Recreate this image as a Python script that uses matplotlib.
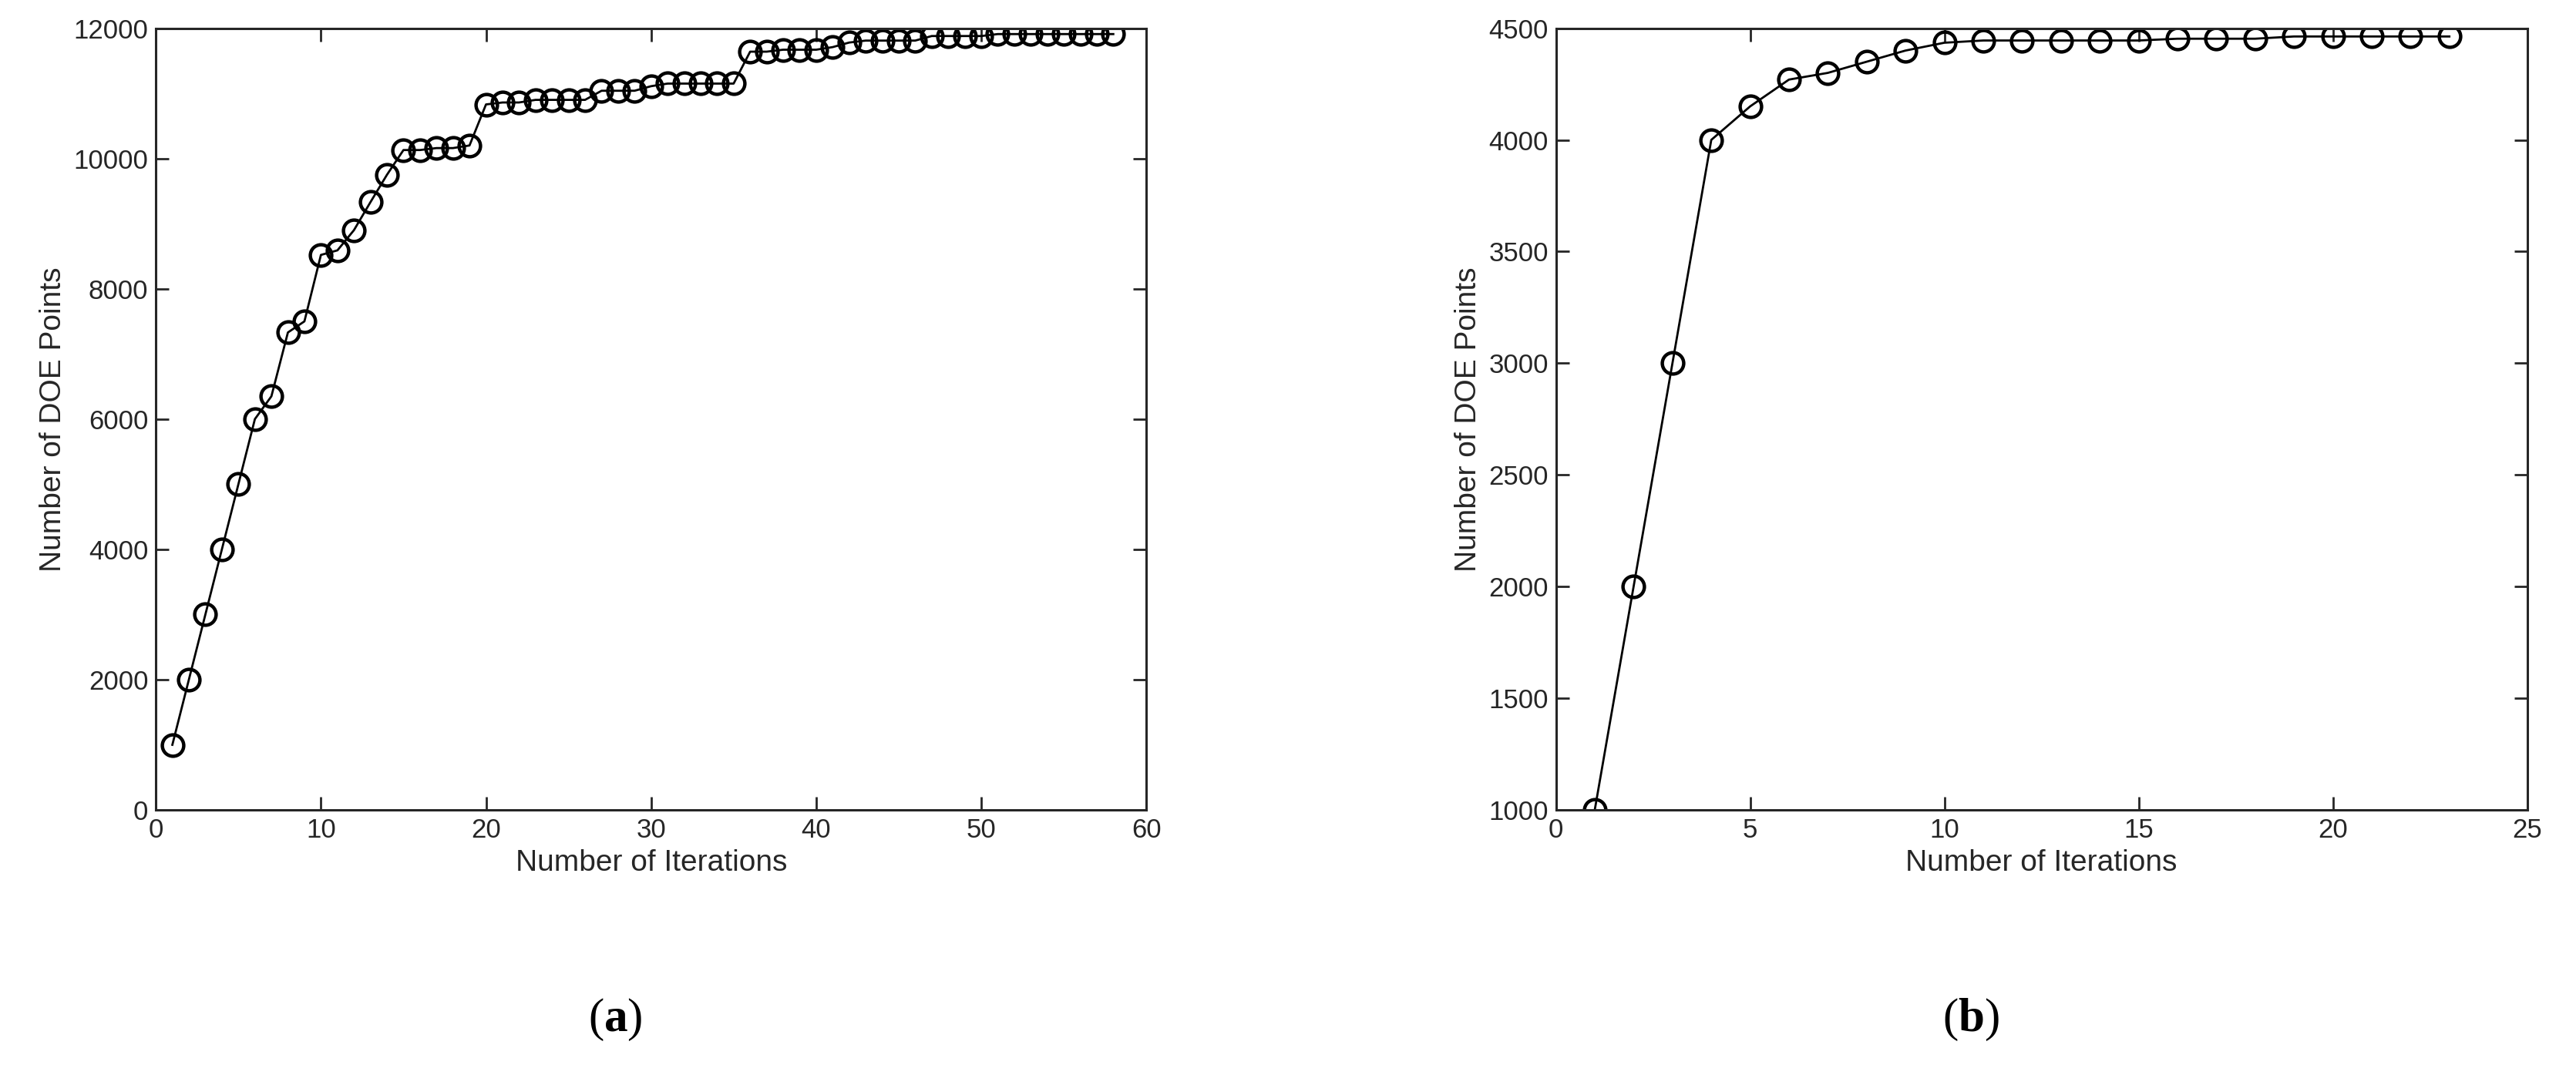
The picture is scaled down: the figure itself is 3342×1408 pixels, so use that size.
import matplotlib
matplotlib.use("Agg")
import matplotlib.pyplot as plt

iters_a = list(range(1, 59))
doe_a = [1000, 2000, 3000, 4000, 5000, 6000, 6350, 7330, 7500, 8520,
         8590, 8900, 9330, 9750, 10130, 10130, 10160, 10160, 10200, 10830,
         10860, 10860, 10900, 10900, 10900, 10900, 11040, 11040, 11040, 11110,
         11150, 11150, 11150, 11150, 11150, 11640, 11640, 11670, 11670, 11670,
         11710, 11780, 11810, 11810, 11810, 11810, 11880, 11880, 11880, 11880,
         11910, 11910, 11910, 11910, 11910, 11910, 11910, 11910]

iters_b = list(range(1, 24))
doe_b = [1000, 2000, 3000, 4000, 4150, 4270, 4300, 4350, 4400, 4435,
         4445, 4445, 4445, 4445, 4445, 4453, 4453, 4453, 4463, 4463,
         4463, 4463, 4463]

plt.rcParams["font.family"] = ["Liberation Sans", "DejaVu Sans"]
plt.rcParams["mathtext.fontset"] = "custom"
plt.rcParams["mathtext.rm"] = "Liberation Serif"
plt.rcParams["mathtext.bf"] = "Liberation Serif:bold"
grey = "#262626"

fig = plt.figure(figsize=(16.71, 7.04), dpi=200)
ax_a = fig.add_axes([0.0605, 0.2535, 0.3845, 0.7205])
ax_b = fig.add_axes([0.604, 0.2535, 0.377, 0.7205])

panels = [
    (ax_a, iters_a, doe_a, (0, 60), range(0, 61, 10), (0, 12000), range(0, 12001, 2000)),
    (ax_b, iters_b, doe_b, (0, 25), range(0, 26, 5), (1000, 4500), range(1000, 4501, 500)),
]
for ax, x, y, xl, xt, yl, yt in panels:
    ax.plot(x, y, color="black", lw=1.0, marker="o", ms=10, mfc="none", mec="black", mew=1.6)
    ax.set_xlim(*xl)
    ax.set_ylim(*yl)
    ax.set_xticks(list(xt))
    ax.set_yticks(list(yt))
    ax.tick_params(direction="in", top=True, right=True, length=6, width=1,
                   labelsize=12.5, colors=grey, labelcolor=grey)
    for s in ax.spines.values():
        s.set_color(grey)
        s.set_linewidth(1.1)
    ax.set_xlabel("Number of Iterations", fontsize=14, color=grey, labelpad=3)
    ax.set_ylabel("Number of DOE Points", fontsize=14, color=grey, labelpad=3)

for xpos, lab in [(0.239, "a"), (0.765, "b")]:
    fig.text(xpos, 0.039, r"$\mathrm{(}\mathbf{" + lab + r"}\mathrm{)}$", fontsize=22,
             ha="center", va="bottom")

fig.savefig("out.png", dpi=200)
plt.close()
